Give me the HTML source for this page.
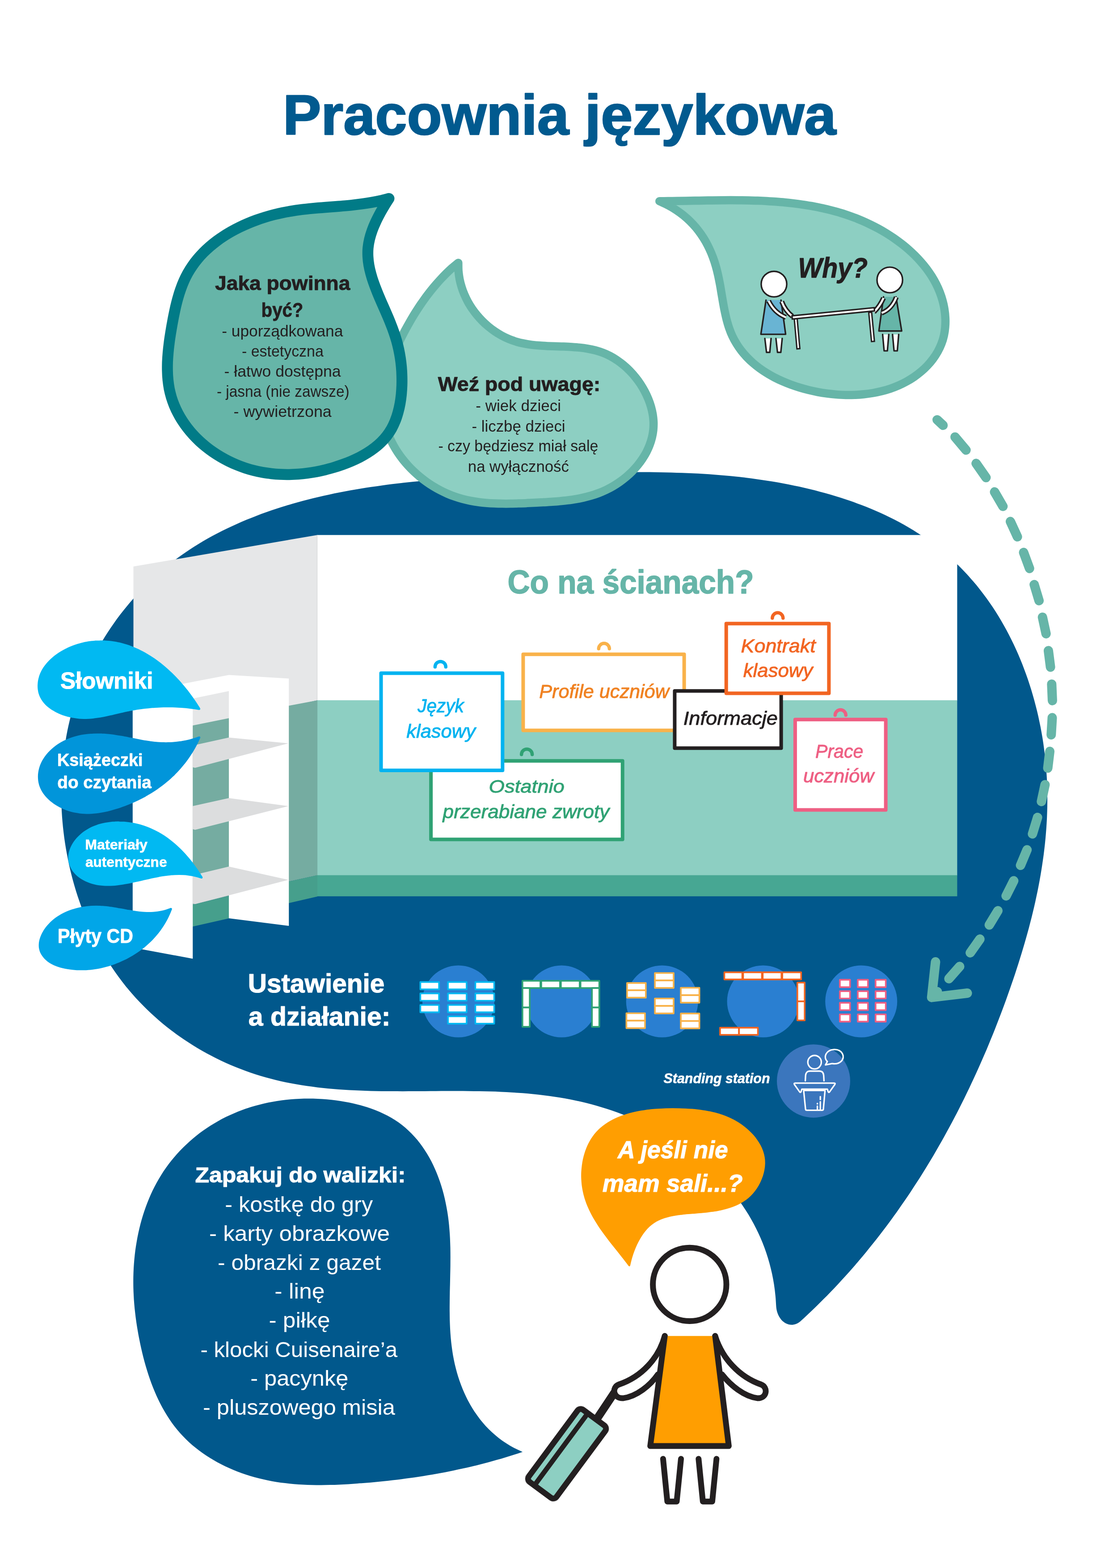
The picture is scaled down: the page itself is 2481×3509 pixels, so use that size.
<!DOCTYPE html>
<html lang="pl">
<head>
<meta charset="utf-8">
<title>Pracownia językowa</title>
<style>
html,body{margin:0;padding:0;background:#fff;}
body{width:2481px;height:3509px;overflow:hidden;}
svg{display:block;}
text{font-family:"Liberation Sans",sans-serif;}
.tb{font-weight:bold;}
.ti{font-style:italic;}
.tbi{font-weight:bold;font-style:italic;}
</style>
</head>
<body>
<svg width="2481" height="3509" viewBox="0 0 2481 3509">
<g opacity="0.999">
<text class="tb" transform="translate(633 300.6) scale(1.0132 1)" font-size="126.3" fill="#005a8f" stroke="#005a8f" stroke-width="2.7" stroke-linejoin="round">Pracownia językowa</text>
<path d="M1736.5,2925C1735.9,2916.5 1735.6,2907.9 1734.7,2899.5C1733.9,2891.1 1732.9,2882.8 1731.6,2874.6C1730.3,2866.4 1728.8,2858.3 1727.1,2850.3C1725.4,2842.3 1723.4,2834.4 1721.3,2826.7C1719.1,2818.9 1716.8,2811.2 1714.2,2803.6C1711.7,2796.1 1708.9,2788.6 1706,2781.3C1703,2773.9 1699.9,2766.7 1696.5,2759.6C1693.2,2752.4 1689.7,2745.4 1686,2738.5C1682.3,2731.6 1678.4,2724.8 1674.4,2718.1C1670.3,2711.4 1666.1,2704.8 1661.7,2698.4C1657.4,2691.9 1652.8,2685.6 1648.1,2679.3C1643.4,2673.1 1638.6,2667 1633.6,2661C1628.6,2655 1623.4,2649.1 1618.1,2643.4C1612.8,2637.6 1607.4,2631.9 1601.8,2626.4C1596.3,2620.9 1590.6,2615.5 1584.8,2610.2C1578.9,2604.9 1573,2599.8 1566.9,2594.7C1560.9,2589.7 1554.7,2584.8 1548.4,2580C1542.1,2575.2 1535.7,2570.5 1529.2,2565.9C1522.7,2561.4 1516.1,2557 1509.4,2552.7C1502.7,2548.4 1495.9,2544.2 1489.1,2540.2C1482.2,2536.1 1475.2,2532.2 1468.2,2528.4C1461.2,2524.6 1454,2521 1446.8,2517.4C1439.7,2513.9 1432.4,2510.5 1425.1,2507.2C1417.7,2504 1410.4,2500.8 1402.9,2497.8C1395.5,2494.8 1388,2492 1380.4,2489.2C1372.9,2486.5 1365.3,2483.9 1357.6,2481.4C1350,2479 1342.3,2476.6 1334.6,2474.4C1326.9,2472.3 1319.2,2470.2 1311.4,2468.3C1303.6,2466.4 1295.8,2464.6 1288,2462.9C1280.2,2461.3 1272.4,2459.7 1264.5,2458.3C1256.6,2456.9 1248.7,2455.6 1240.8,2454.4C1232.9,2453.2 1225,2452.1 1217,2451.2C1209.1,2450.2 1201.1,2449.3 1193.1,2448.5C1185.2,2447.7 1177.2,2447 1169.1,2446.3C1161.1,2445.7 1153.1,2445.2 1145,2444.7C1137,2444.2 1128.9,2443.8 1120.9,2443.4C1112.8,2443.1 1104.7,2442.8 1096.6,2442.6C1088.6,2442.3 1080.5,2442.2 1072.4,2442C1064.3,2441.9 1056.1,2441.8 1048,2441.7C1039.9,2441.6 1031.8,2441.6 1023.7,2441.6C1015.6,2441.6 1007.4,2441.6 999.3,2441.6C991.2,2441.7 983.1,2441.7 974.9,2441.8C966.8,2441.8 958.7,2441.9 950.6,2441.9C942.5,2442 934.3,2442.1 926.2,2442.1C918.1,2442.1 910,2442.2 901.9,2442.2C893.8,2442.2 885.7,2442.2 877.7,2442.1C869.6,2442.1 861.5,2442 853.4,2441.9C845.4,2441.7 837.3,2441.6 829.3,2441.4C821.3,2441.2 813.3,2440.9 805.2,2440.6C797.2,2440.3 789.2,2439.9 781.3,2439.5C773.3,2439 765.3,2438.5 757.4,2437.9C749.5,2437.3 741.6,2436.7 733.7,2435.9C725.8,2435.2 717.9,2434.3 710.1,2433.4C702.2,2432.4 694.4,2431.4 686.6,2430.3C678.8,2429.1 671,2427.9 663.3,2426.6C655.5,2425.2 647.8,2423.7 640.1,2422.2C632.4,2420.6 624.7,2418.8 617.1,2417C609.5,2415.2 601.9,2413.2 594.3,2411.1C586.8,2408.9 579.2,2406.7 571.7,2404.3C564.2,2401.9 556.8,2399.3 549.4,2396.6C542,2393.9 534.6,2391.1 527.3,2388.1C520,2385.1 512.7,2382 505.5,2378.7C498.3,2375.5 491.1,2372.1 484,2368.5C476.9,2365 469.9,2361.3 462.9,2357.5C456,2353.7 449.1,2349.8 442.2,2345.7C435.4,2341.7 428.7,2337.5 422,2333.1C415.3,2328.8 408.7,2324.4 402.2,2319.8C395.8,2315.2 389.3,2310.5 383,2305.7C376.7,2300.9 370.5,2295.9 364.3,2290.9C358.2,2285.8 352.2,2280.6 346.3,2275.3C340.3,2270 334.5,2264.6 328.8,2259C323.1,2253.5 317.5,2247.8 312,2242.1C306.6,2236.3 301.2,2230.4 296,2224.4C290.7,2218.5 285.6,2212.4 280.6,2206.2C275.6,2199.9 270.8,2193.6 266.1,2187.2C261.3,2180.8 256.7,2174.3 252.3,2167.7C247.8,2161 243.5,2154.3 239.3,2147.5C235.1,2140.7 231,2133.9 227,2126.9C223.1,2119.9 219.3,2112.9 215.6,2105.7C211.9,2098.6 208.4,2091.4 204.9,2084.1C201.5,2076.9 198.2,2069.5 195,2062.1C191.9,2054.7 188.8,2047.2 185.9,2039.7C183,2032.2 180.2,2024.6 177.6,2016.9C174.9,2009.3 172.4,2001.6 170,1993.9C167.6,1986.1 165.4,1978.4 163.2,1970.5C161.1,1962.7 159.1,1954.9 157.2,1947C155.3,1939.1 153.6,1931.2 152,1923.2C150.4,1915.3 148.9,1907.3 147.5,1899.3C146.2,1891.3 144.9,1883.3 143.8,1875.3C142.7,1867.2 141.8,1859.2 140.9,1851.1C140.1,1843.1 139.4,1835 138.8,1827C138.2,1818.9 137.8,1810.8 137.5,1802.8C137.2,1794.7 137,1786.6 137,1778.6C136.9,1770.5 137,1762.5 137.2,1754.4C137.5,1746.4 137.8,1738.4 138.3,1730.3C138.8,1722.3 139.4,1714.3 140.2,1706.3C141,1698.4 141.9,1690.4 142.9,1682.4C144,1674.5 145.1,1666.6 146.5,1658.7C147.8,1650.8 149.2,1643 150.8,1635.1C152.4,1627.3 154.2,1619.5 156,1611.8C157.9,1604 160,1596.3 162.1,1588.6C164.3,1581 166.6,1573.3 169,1565.8C171.5,1558.2 174.1,1550.7 176.8,1543.2C179.6,1535.7 182.5,1528.3 185.5,1520.9C188.5,1513.5 191.7,1506.2 195,1499C198.3,1491.7 201.7,1484.5 205.3,1477.4C208.8,1470.3 212.5,1463.2 216.4,1456.2C220.2,1449.3 224.2,1442.3 228.3,1435.5C232.3,1428.7 236.6,1421.9 240.9,1415.2C245.2,1408.5 249.7,1401.9 254.3,1395.4C258.9,1388.9 263.6,1382.5 268.4,1376.1C273.2,1369.8 278.1,1363.5 283.2,1357.4C288.2,1351.2 293.4,1345.2 298.7,1339.2C303.9,1333.2 309.3,1327.4 314.8,1321.6C320.3,1315.8 325.9,1310.2 331.6,1304.6C337.2,1299.1 343,1293.6 348.9,1288.3C354.8,1283 360.8,1277.7 366.9,1272.6C373,1267.5 379.2,1262.5 385.4,1257.7C391.7,1252.8 398.1,1248.1 404.5,1243.5C411,1238.9 417.5,1234.4 424.2,1230C430.8,1225.6 437.5,1221.4 444.3,1217.2C451.1,1213.1 457.9,1209.1 464.9,1205.1C471.8,1201.2 478.8,1197.4 485.9,1193.7C492.9,1190 500.1,1186.5 507.3,1183C514.4,1179.5 521.7,1176.1 529,1172.9C536.3,1169.6 543.7,1166.4 551.1,1163.3C558.5,1160.3 566,1157.3 573.5,1154.4C581,1151.6 588.6,1148.8 596.2,1146.1C603.7,1143.4 611.4,1140.8 619,1138.3C626.7,1135.8 634.4,1133.4 642.1,1131C649.9,1128.7 657.6,1126.5 665.4,1124.3C673.2,1122.1 681,1120.1 688.8,1118C696.6,1116 704.5,1114.1 712.3,1112.3C720.1,1110.4 728,1108.6 735.9,1106.9C743.7,1105.2 751.6,1103.6 759.5,1102.1C767.4,1100.5 775.2,1099 783.1,1097.6C791,1096.1 798.9,1094.8 806.7,1093.5C814.6,1092.2 822.5,1090.9 830.4,1089.8C838.2,1088.6 846.1,1087.5 854,1086.4C861.9,1085.3 869.8,1084.3 877.6,1083.3C885.5,1082.4 893.4,1081.5 901.3,1080.6C909.2,1079.7 917.1,1078.9 925,1078.1C932.9,1077.3 940.7,1076.6 948.6,1075.9C956.5,1075.2 964.4,1074.5 972.4,1073.9C980.3,1073.3 988.2,1072.7 996.1,1072.1C1004,1071.6 1011.9,1071 1019.8,1070.5C1027.8,1070 1035.7,1069.6 1043.6,1069.1C1051.6,1068.7 1059.5,1068.3 1067.5,1067.8C1075.4,1067.4 1083.4,1067.1 1091.3,1066.7C1099.3,1066.3 1107.2,1066 1115.2,1065.6C1123.2,1065.3 1131.2,1065 1139.1,1064.6C1147.1,1064.3 1155.1,1064 1163.1,1063.7C1171.1,1063.4 1179.1,1063.1 1187.1,1062.8C1195.2,1062.5 1203.2,1062.2 1211.2,1061.9C1219.3,1061.6 1227.3,1061.3 1235.3,1061C1243.4,1060.7 1251.4,1060.4 1259.5,1060.1C1267.6,1059.9 1275.6,1059.6 1283.7,1059.3C1291.8,1059.1 1299.9,1058.8 1307.9,1058.6C1316,1058.3 1324.1,1058.1 1332.2,1057.9C1340.3,1057.7 1348.4,1057.5 1356.4,1057.4C1364.5,1057.2 1372.6,1057 1380.7,1056.9C1388.8,1056.8 1396.9,1056.7 1405,1056.6C1413.1,1056.6 1421.2,1056.5 1429.2,1056.5C1437.3,1056.5 1445.4,1056.6 1453.5,1056.6C1461.6,1056.7 1469.7,1056.8 1477.7,1056.9C1485.8,1057.1 1493.9,1057.2 1501.9,1057.4C1510,1057.7 1518.1,1057.9 1526.1,1058.2C1534.2,1058.5 1542.2,1058.9 1550.3,1059.3C1558.3,1059.7 1566.3,1060.1 1574.3,1060.6C1582.4,1061.1 1590.4,1061.6 1598.4,1062.2C1606.4,1062.9 1614.4,1063.5 1622.4,1064.2C1630.4,1064.9 1638.3,1065.7 1646.3,1066.6C1654.3,1067.4 1662.2,1068.3 1670.1,1069.3C1678.1,1070.2 1686,1071.3 1693.9,1072.4C1701.8,1073.5 1709.7,1074.6 1717.6,1075.9C1725.5,1077.1 1733.3,1078.4 1741.2,1079.8C1749,1081.2 1756.9,1082.7 1764.7,1084.2C1772.5,1085.8 1780.3,1087.4 1788.1,1089.1C1795.9,1090.8 1803.6,1092.6 1811.4,1094.5C1819.1,1096.3 1826.8,1098.3 1834.5,1100.4C1842.2,1102.4 1849.9,1104.5 1857.6,1106.8C1865.2,1109 1872.9,1111.3 1880.5,1113.8C1888.1,1116.2 1895.6,1118.7 1903.2,1121.3C1910.7,1124 1918.2,1126.7 1925.6,1129.5C1933.1,1132.3 1940.5,1135.3 1947.8,1138.3C1955.2,1141.4 1962.5,1144.5 1969.7,1147.8C1977,1151.1 1984.1,1154.5 1991.2,1158C1998.3,1161.5 2005.4,1165.1 2012.3,1168.8C2019.3,1172.6 2026.2,1176.5 2033,1180.5C2039.8,1184.5 2046.5,1188.6 2053.2,1192.9C2059.8,1197.1 2066.3,1201.5 2072.8,1206C2079.2,1210.6 2085.6,1215.2 2091.8,1220C2098.1,1224.8 2104.2,1229.8 2110.3,1234.8C2116.3,1239.9 2122.3,1245 2128.1,1250.3C2133.9,1255.6 2139.6,1261.1 2145.3,1266.6C2150.9,1272.1 2156.4,1277.8 2161.7,1283.6C2167.1,1289.4 2172.4,1295.3 2177.5,1301.3C2182.7,1307.3 2187.7,1313.4 2192.6,1319.7C2197.5,1325.9 2202.3,1332.2 2207,1338.7C2211.6,1345.1 2216.1,1351.7 2220.6,1358.3C2225,1364.9 2229.3,1371.7 2233.5,1378.5C2237.6,1385.3 2241.7,1392.2 2245.6,1399.2C2249.6,1406.2 2253.4,1413.2 2257.1,1420.4C2260.8,1427.5 2264.3,1434.8 2267.8,1442C2271.2,1449.3 2274.6,1456.7 2277.8,1464.1C2281,1471.5 2284.1,1479 2287.1,1486.5C2290,1494.1 2292.9,1501.7 2295.6,1509.3C2298.4,1516.9 2301,1524.6 2303.5,1532.4C2306,1540.1 2308.4,1547.9 2310.6,1555.7C2312.9,1563.5 2315,1571.3 2317,1579.2C2319.1,1587.1 2321,1595 2322.8,1602.9C2324.5,1610.9 2326.2,1618.8 2327.8,1626.8C2329.3,1634.7 2330.7,1642.7 2332.1,1650.7C2333.4,1658.7 2334.6,1666.7 2335.6,1674.8C2336.7,1682.8 2337.7,1690.8 2338.5,1698.8C2339.4,1706.8 2340.1,1714.8 2340.7,1722.8C2341.3,1730.8 2341.8,1738.8 2342.2,1746.8C2342.6,1754.8 2342.8,1762.8 2343,1770.7C2343.1,1778.7 2343.2,1786.6 2343.1,1794.6C2343.1,1802.5 2342.9,1810.5 2342.6,1818.4C2342.4,1826.3 2342,1834.2 2341.5,1842.2C2341.1,1850.1 2340.5,1858 2339.8,1865.9C2339.2,1873.7 2338.4,1881.6 2337.6,1889.5C2336.7,1897.4 2335.8,1905.2 2334.8,1913.1C2333.7,1920.9 2332.6,1928.8 2331.4,1936.6C2330.2,1944.4 2329,1952.3 2327.6,1960.1C2326.3,1967.9 2324.8,1975.7 2323.3,1983.5C2321.8,1991.3 2320.2,1999 2318.5,2006.8C2316.9,2014.6 2315.2,2022.3 2313.4,2030.1C2311.6,2037.8 2309.7,2045.6 2307.8,2053.3C2305.8,2061 2303.8,2068.8 2301.8,2076.5C2299.7,2084.2 2297.6,2091.9 2295.4,2099.6C2293.3,2107.2 2291,2114.9 2288.7,2122.6C2286.5,2130.2 2284.1,2137.9 2281.7,2145.5C2279.4,2153.2 2276.9,2160.8 2274.4,2168.4C2272,2176 2269.4,2183.7 2266.9,2191.3C2264.3,2198.9 2261.7,2206.4 2259,2214C2256.4,2221.6 2253.7,2229.1 2251,2236.7C2248.3,2244.2 2245.5,2251.8 2242.7,2259.3C2239.9,2266.8 2237,2274.3 2234.1,2281.8C2231.2,2289.3 2228.3,2296.8 2225.4,2304.3C2222.4,2311.7 2219.4,2319.2 2216.3,2326.6C2213.3,2334.1 2210.2,2341.5 2207.1,2348.9C2203.9,2356.3 2200.7,2363.7 2197.5,2371C2194.3,2378.4 2191.1,2385.7 2187.8,2393C2184.5,2400.4 2181.1,2407.7 2177.7,2415C2174.4,2422.2 2170.9,2429.5 2167.5,2436.8C2164,2444 2160.5,2451.2 2157,2458.4C2153.4,2465.6 2149.8,2472.8 2146.2,2479.9C2142.6,2487.1 2138.9,2494.2 2135.2,2501.3C2131.4,2508.4 2127.7,2515.5 2123.9,2522.6C2120.1,2529.6 2116.2,2536.7 2112.3,2543.7C2108.4,2550.7 2104.5,2557.7 2100.5,2564.6C2096.5,2571.6 2092.5,2578.5 2088.5,2585.4C2084.4,2592.3 2080.3,2599.1 2076.1,2606C2072,2612.8 2067.8,2619.6 2063.5,2626.4C2059.3,2633.2 2055,2639.9 2050.7,2646.6C2046.3,2653.4 2042,2660 2037.6,2666.7C2033.1,2673.4 2028.7,2680 2024.2,2686.6C2019.6,2693.2 2015.1,2699.7 2010.5,2706.2C2005.9,2712.8 2001.3,2719.2 1996.6,2725.7C1991.9,2732.1 1987.1,2738.6 1982.4,2744.9C1977.6,2751.3 1972.7,2757.7 1967.9,2764C1963,2770.3 1958.1,2776.6 1953.1,2782.8C1948.1,2789 1943.1,2795.2 1938.1,2801.4C1933,2807.5 1927.9,2813.7 1922.8,2819.7C1917.6,2825.8 1912.4,2831.9 1907.2,2837.9C1901.9,2843.9 1896.6,2849.8 1891.3,2855.7C1885.9,2861.6 1880.6,2867.5 1875.1,2873.4C1869.7,2879.2 1864.2,2885 1858.7,2890.7C1853.1,2896.5 1847.6,2902.2 1841.9,2907.8C1836.3,2913.5 1830.6,2919.1 1824.9,2924.7C1819.2,2930.2 1813.4,2935.7 1807.6,2941.2C1801.8,2946.7 1795.9,2952.1 1790,2957.5C1767,2976 1739.5,2957 1736.5,2925Z" fill="#00588c"/>
<rect x="709.6" y="1197.3" width="1431.8" height="370.5" fill="#fff"/><rect x="709.6" y="1567.2" width="1431.8" height="392" fill="#8dcfc2"/><rect x="709.6" y="1958.6" width="1431.8" height="47.2" fill="#47a793"/><path d="M298.5,1267.8L710.1,1197.3L710.1,1567.2L298.5,1660Z" fill="#e6e7e8"/><path d="M645.2,1579.4L710.1,1567.2L710.1,1958.8L645.2,1973Z" fill="#75aca1"/><path d="M645.2,1972.9L710.1,1958.5L710.1,2006.2L645.2,2021.3Z" fill="#469f8c"/><path d="M430.2,1623.7L513,1606.9L513,2005.1L430.2,2025Z" fill="#75aca1"/><path d="M430.2,2025L513,2005.1L513,2055L430.2,2073.8Z" fill="#469f8c"/><path d="M709.6,1197.4V1567" stroke="#d3d5d6" stroke-width="1" fill="none"/>
<path d="M296.8,1552L431.2,1525.9L512,1510.4L646.2,1518.4L646.2,2072.1L512,2055L512,1546.5L431.2,1563.2L431.2,2145.5L296.8,2120.5Z" fill="#fff"/><path d="M430.7,1668.5L512,1650.4L645.2,1663.4L436.6,1718.3L430.7,1717Z" fill="#dcddde"/><path d="M430.7,1803.9L512,1785.9L645.2,1803.9L436.6,1856.9L430.7,1855.6Z" fill="#dcddde"/><path d="M430.7,1958.9L512,1939.2L645.2,1969.1L436.6,2023.3L430.7,2022Z" fill="#dcddde"/>
<path d="M1339.3,1451.8A12,12 0 0 1 1363.3,1451.8" fill="none" stroke="#f9b24a" stroke-width="7.5" stroke-linecap="round"/><rect x="1170.4" y="1464.3" width="360.2" height="170.1" fill="#fff" stroke="#f9b24a" stroke-width="8" stroke-linejoin="round"/><text class="ti" transform="translate(1206.3 1561.6) scale(1.0386 1)" font-size="41.6" fill="#f08222" stroke="#f08222" stroke-width="0.9" stroke-linejoin="round">Profile uczniów</text><path d="M1166.6,1688.4A12,12 0 0 1 1190.6,1688.4" fill="none" stroke="#30a274" stroke-width="7.5" stroke-linecap="round"/><rect x="964.1" y="1702.7" width="428.6" height="175.7" fill="#fff" stroke="#30a274" stroke-width="8" stroke-linejoin="round"/><text class="ti" transform="translate(1093.6 1774.1) scale(1.0931 1)" font-size="41.6" fill="#30a274" stroke="#30a274" stroke-width="0.9" stroke-linejoin="round">Ostatnio</text><text class="ti" transform="translate(990.6 1830.7) scale(1.0611 1)" font-size="41.6" fill="#30a274" stroke="#30a274" stroke-width="0.9" stroke-linejoin="round">przerabiane zwroty</text><path d="M973.3,1492.4A12,12 0 0 1 997.3,1492.4" fill="none" stroke="#00b3f0" stroke-width="7.5" stroke-linecap="round"/><rect x="852.5" y="1506.4" width="271.8" height="217.5" fill="#fff" stroke="#00b3f0" stroke-width="8" stroke-linejoin="round"/><text class="ti" transform="translate(934.2 1594.1) scale(0.9749 1)" font-size="41.6" fill="#00b3f0" stroke="#00b3f0" stroke-width="0.9" stroke-linejoin="round">Język</text><text class="ti" transform="translate(909.3 1651.4) scale(1.0449 1)" font-size="41.6" fill="#00b3f0" stroke="#00b3f0" stroke-width="0.9" stroke-linejoin="round">klasowy</text><rect x="1509.4" y="1546.2" width="238.2" height="128.1" fill="#fff" stroke="#231f20" stroke-width="8" stroke-linejoin="round"/><text class="ti" transform="translate(1528.7 1621.7) scale(1.0886 1)" font-size="41.6" fill="#231f20" stroke="#231f20" stroke-width="0.9" stroke-linejoin="round">Informacje</text><path d="M1727.8,1383.3A12,12 0 0 1 1751.8,1383.3" fill="none" stroke="#f26522" stroke-width="7.5" stroke-linecap="round"/><rect x="1624.7" y="1395.4" width="229.7" height="156.1" fill="#fff" stroke="#f26522" stroke-width="8" stroke-linejoin="round"/><text class="ti" transform="translate(1657.5 1459.8) scale(1.0794 1)" font-size="41.6" fill="#f26522" stroke="#f26522" stroke-width="0.9" stroke-linejoin="round">Kontrakt</text><text class="ti" transform="translate(1662.7 1514.5) scale(1.0523 1)" font-size="41.6" fill="#f26522" stroke="#f26522" stroke-width="0.9" stroke-linejoin="round">klasowy</text><path d="M1868.3,1600.6A12,12 0 0 1 1892.3,1600.6" fill="none" stroke="#ee5f83" stroke-width="7.5" stroke-linecap="round"/><rect x="1778.9" y="1610.2" width="202.7" height="202.3" fill="#fff" stroke="#ee5f83" stroke-width="8" stroke-linejoin="round"/><text class="ti" transform="translate(1824 1695.7) scale(0.9875 1)" font-size="41.6" fill="#ee5f83" stroke="#ee5f83" stroke-width="0.9" stroke-linejoin="round">Prace</text><text class="ti" transform="translate(1796.9 1751.1) scale(1.0524 1)" font-size="41.6" fill="#ee5f83" stroke="#ee5f83" stroke-width="0.9" stroke-linejoin="round">uczniów</text><text class="tb" transform="translate(1135.5 1327.8) scale(0.9360 1)" font-size="74.1" fill="#66b5a8" stroke="#66b5a8" stroke-width="1.6" stroke-linejoin="round">Co na ścianach?</text>
<path d="M445.6,1586.3C443.9,1583.6 442.2,1580.8 440.4,1578C438.6,1575.3 436.8,1572.5 435,1569.8C433.1,1567 431.2,1564.3 429.3,1561.6C427.3,1558.8 425.3,1556.1 423.3,1553.4C421.3,1550.8 419.3,1548.1 417.2,1545.4C415.1,1542.8 413,1540.1 410.8,1537.5C408.6,1534.9 406.4,1532.3 404.2,1529.8C401.9,1527.2 399.7,1524.7 397.4,1522.2C395,1519.7 392.7,1517.2 390.3,1514.8C387.9,1512.4 385.5,1510 383.1,1507.6C380.6,1505.3 378.2,1502.9 375.6,1500.7C373.1,1498.4 370.6,1496.1 368,1493.9C365.4,1491.7 362.8,1489.6 360.2,1487.5C357.5,1485.4 354.9,1483.3 352.2,1481.3C349.5,1479.3 346.7,1477.3 344,1475.4C341.2,1473.5 338.4,1471.7 335.6,1469.9C332.8,1468.1 329.9,1466.3 327,1464.6C324.2,1463 321.3,1461.4 318.3,1459.8C315.4,1458.3 312.5,1456.8 309.5,1455.3C306.5,1453.9 303.5,1452.6 300.4,1451.3C297.4,1450 294.4,1448.8 291.3,1447.6C288.2,1446.5 285.1,1445.4 282,1444.5C278.8,1443.5 275.7,1442.6 272.5,1441.7C269.3,1440.9 266.1,1440.1 262.9,1439.5C259.7,1438.8 256.4,1438.2 253.2,1437.7C249.9,1437.2 246.6,1436.8 243.3,1436.5C240,1436.2 236.7,1436 233.4,1435.8C230,1435.7 226.7,1435.6 223.3,1435.7C220,1435.7 216.6,1435.9 213.2,1436.1C209.9,1436.4 206.5,1436.7 203.1,1437.1C199.8,1437.6 196.4,1438.1 193,1438.7C189.7,1439.3 186.4,1440.1 183.1,1440.9C179.7,1441.7 176.4,1442.6 173.2,1443.7C169.9,1444.7 166.6,1445.8 163.4,1447C160.2,1448.3 157,1449.6 153.9,1451C150.8,1452.5 147.6,1454 144.6,1455.6C141.5,1457.3 138.5,1459 135.5,1460.9C132.6,1462.7 129.7,1464.7 126.8,1466.8C124,1468.8 121.2,1471 118.6,1473.3C116,1475.5 113.4,1477.9 111,1480.4C108.6,1482.8 106.3,1485.4 104.2,1488C102,1490.6 100.1,1493.4 98.3,1496.2C96.5,1499 94.9,1501.9 93.5,1504.9C92,1507.9 90.8,1511 89.8,1514.1C88.9,1517.2 88.1,1520.4 87.5,1523.6C87,1526.8 86.7,1530 86.6,1533.1C86.5,1536.3 86.6,1539.5 87,1542.5C87.4,1545.6 88,1548.7 88.8,1551.6C89.7,1554.5 90.8,1557.3 92.2,1560C93.5,1562.7 95.1,1565.3 96.9,1567.8C98.7,1570.3 100.7,1572.7 102.9,1574.9C105.1,1577.2 107.5,1579.3 110,1581.3C112.6,1583.3 115.3,1585.3 118.1,1587C120.9,1588.8 123.9,1590.5 126.9,1592C130,1593.6 133.1,1595 136.4,1596.3C139.6,1597.6 142.9,1598.8 146.3,1599.8C149.7,1600.9 153.1,1601.8 156.6,1602.6C160,1603.4 163.5,1604.1 167,1604.6C170.4,1605.2 173.9,1605.6 177.4,1605.9C180.8,1606.2 184.3,1606.3 187.7,1606.4C191.1,1606.4 194.5,1606.3 197.9,1606.2C201.2,1606 204.6,1605.7 207.9,1605.4C211.3,1605.1 214.6,1604.6 217.9,1604.1C221.2,1603.6 224.5,1603.1 227.8,1602.5C231.1,1601.9 234.4,1601.2 237.7,1600.5C241,1599.8 244.2,1599.1 247.5,1598.3C250.8,1597.6 254,1596.8 257.3,1596.1C260.5,1595.3 263.8,1594.5 267,1593.8C270.3,1593 273.6,1592.2 276.8,1591.5C280.1,1590.8 283.4,1590.1 286.6,1589.5C289.9,1588.8 293.2,1588.2 296.5,1587.6C299.8,1587 303,1586.5 306.3,1585.9C309.6,1585.4 312.9,1584.9 316.2,1584.5C319.5,1584.1 322.8,1583.6 326.1,1583.3C329.4,1582.9 332.7,1582.5 336,1582.2C339.3,1581.9 342.6,1581.7 346,1581.4C349.3,1581.2 352.6,1581 355.9,1580.9C359.2,1580.7 362.5,1580.6 365.9,1580.5C369.2,1580.4 372.5,1580.4 375.8,1580.4C379.1,1580.4 382.5,1580.4 385.8,1580.5C389.1,1580.6 392.4,1580.7 395.8,1580.9C399.1,1581 402.4,1581.2 405.7,1581.4C409.1,1581.7 412.4,1582 415.7,1582.3C419,1582.6 422.4,1583 425.7,1583.4C429,1583.8 432.3,1584.2 435.7,1584.7C439,1585.2 442.3,1585.8 445.6,1586.3Z" fill="#00b9f2" stroke="#00b9f2" stroke-width="5" stroke-linejoin="round"/><text class="tb" transform="translate(134.9 1541) scale(0.9938 1)" font-size="51.5" fill="#fff" stroke="#fff" stroke-width="1.1" stroke-linejoin="round">Słowniki</text><path d="M445.6,1650.5C442.3,1651.7 439,1652.9 435.7,1653.9C432.4,1655 429.1,1655.9 425.8,1656.8C422.5,1657.7 419.2,1658.4 415.9,1659.1C412.6,1659.8 409.3,1660.4 405.9,1661C402.6,1661.5 399.3,1661.9 396,1662.3C392.7,1662.7 389.4,1663 386,1663.2C382.7,1663.4 379.4,1663.5 376.1,1663.6C372.8,1663.7 369.5,1663.7 366.2,1663.6C362.9,1663.6 359.6,1663.4 356.3,1663.2C353,1663 349.8,1662.7 346.5,1662.4C343.2,1662.1 339.9,1661.7 336.7,1661.3C333.4,1660.8 330.2,1660.3 326.9,1659.8C323.7,1659.3 320.4,1658.7 317.2,1658.1C313.9,1657.5 310.7,1656.9 307.5,1656.3C304.2,1655.6 301,1655 297.7,1654.3C294.5,1653.7 291.2,1653 287.9,1652.4C284.7,1651.7 281.4,1651.1 278.1,1650.5C274.8,1649.8 271.5,1649.2 268.2,1648.7C264.9,1648.1 261.6,1647.6 258.3,1647.1C255,1646.6 251.6,1646.1 248.2,1645.7C244.9,1645.3 241.5,1645 238.1,1644.7C234.7,1644.4 231.3,1644.2 227.9,1644.1C224.4,1643.9 221,1643.9 217.5,1643.9C214.1,1643.9 210.7,1644 207.2,1644.2C203.8,1644.3 200.4,1644.6 197,1644.9C193.5,1645.3 190.1,1645.7 186.7,1646.3C183.4,1646.8 180,1647.5 176.7,1648.2C173.3,1649 170,1649.8 166.7,1650.8C163.5,1651.7 160.2,1652.8 157,1654C153.9,1655.2 150.7,1656.5 147.6,1658C144.5,1659.4 141.4,1661 138.5,1662.7C135.5,1664.4 132.5,1666.2 129.7,1668.1C126.8,1670.1 124,1672.2 121.3,1674.4C118.7,1676.6 116.1,1678.9 113.6,1681.3C111.2,1683.7 108.8,1686.2 106.6,1688.8C104.5,1691.4 102.4,1694.1 100.6,1696.9C98.7,1699.7 97,1702.5 95.5,1705.4C94,1708.4 92.7,1711.4 91.6,1714.4C90.5,1717.5 89.6,1720.6 88.9,1723.7C88.3,1726.8 87.8,1729.9 87.5,1733C87.3,1736.2 87.3,1739.3 87.5,1742.4C87.6,1745.5 88.1,1748.5 88.7,1751.5C89.3,1754.5 90.2,1757.5 91.3,1760.3C92.4,1763.2 93.8,1766 95.3,1768.7C96.8,1771.4 98.5,1774 100.4,1776.5C102.3,1779.1 104.4,1781.5 106.6,1783.8C108.9,1786.2 111.3,1788.4 113.8,1790.6C116.3,1792.7 119,1794.7 121.7,1796.7C124.5,1798.6 127.4,1800.4 130.4,1802.1C133.3,1803.8 136.4,1805.4 139.5,1806.8C142.6,1808.3 145.9,1809.6 149.1,1810.8C152.3,1812 155.6,1813.1 158.9,1814C162.2,1814.9 165.6,1815.7 168.9,1816.4C172.2,1817 175.6,1817.5 178.9,1817.9C182.3,1818.3 185.7,1818.6 189,1818.7C192.4,1818.9 195.8,1818.9 199.2,1818.9C202.5,1818.8 205.9,1818.6 209.3,1818.3C212.7,1818 216.1,1817.7 219.4,1817.2C222.8,1816.8 226.2,1816.2 229.5,1815.6C232.9,1814.9 236.2,1814.2 239.6,1813.5C242.9,1812.7 246.3,1811.8 249.6,1810.9C252.9,1810 256.2,1809.1 259.5,1808C262.7,1807 266,1806 269.2,1804.8C272.5,1803.7 275.7,1802.6 278.9,1801.4C282.1,1800.2 285.2,1799 288.4,1797.7C291.5,1796.4 294.7,1795.1 297.8,1793.7C300.8,1792.3 303.9,1790.9 307,1789.5C310,1788 313,1786.5 316,1785C319,1783.4 322,1781.8 324.9,1780.2C327.8,1778.6 330.7,1776.9 333.6,1775.2C336.4,1773.5 339.3,1771.7 342.1,1769.9C344.9,1768.1 347.6,1766.3 350.4,1764.4C353.1,1762.5 355.8,1760.6 358.5,1758.6C361.1,1756.6 363.8,1754.6 366.4,1752.5C369,1750.5 371.5,1748.4 374,1746.2C376.6,1744.1 379,1741.9 381.5,1739.7C383.9,1737.4 386.3,1735.2 388.7,1732.9C391,1730.5 393.3,1728.2 395.6,1725.8C397.9,1723.4 400.1,1720.9 402.3,1718.4C404.5,1715.9 406.6,1713.4 408.7,1710.8C410.8,1708.3 412.9,1705.7 414.9,1703C416.9,1700.3 418.9,1697.6 420.8,1694.9C422.7,1692.1 424.5,1689.4 426.3,1686.5C428.2,1683.7 429.9,1680.8 431.6,1677.9C433.3,1675 435,1672 436.6,1669C438.2,1666 439.8,1663 441.3,1659.9C442.8,1656.8 444.2,1653.6 445.6,1650.5Z" fill="#0095da" stroke="#0095da" stroke-width="5" stroke-linejoin="round"/><text class="tb" transform="translate(127.9 1714.4) scale(0.9571 1)" font-size="39.6" fill="#fff" stroke="#fff" stroke-width="0.8" stroke-linejoin="round">Książeczki</text><text class="tb" transform="translate(128.3 1763.6) scale(0.9756 1)" font-size="39.6" fill="#fff" stroke="#fff" stroke-width="0.8" stroke-linejoin="round">do czytania</text><path d="M450.8,1963.6C449,1960.8 447.2,1957.8 445.3,1955C443.5,1952.1 441.6,1949.3 439.7,1946.5C437.8,1943.7 435.8,1941 433.8,1938.2C431.8,1935.5 429.8,1932.8 427.7,1930.1C425.6,1927.5 423.5,1924.8 421.3,1922.2C419.2,1919.7 417,1917.1 414.8,1914.6C412.5,1912.1 410.3,1909.6 408,1907.2C405.7,1904.8 403.3,1902.4 400.9,1900.1C398.6,1897.8 396.1,1895.5 393.7,1893.3C391.2,1891.1 388.7,1888.9 386.2,1886.8C383.6,1884.7 381.1,1882.7 378.5,1880.7C375.8,1878.7 373.2,1876.8 370.5,1874.9C367.8,1873 365.1,1871.2 362.3,1869.5C359.5,1867.8 356.7,1866.1 353.9,1864.5C351,1862.9 348.1,1861.4 345.2,1859.9C342.3,1858.5 339.3,1857.1 336.3,1855.8C333.3,1854.5 330.2,1853.3 327.1,1852.1C324,1851 320.9,1849.9 317.7,1848.9C314.6,1847.9 311.4,1847 308.1,1846.2C304.9,1845.4 301.6,1844.7 298.2,1844C294.9,1843.4 291.5,1842.9 288.1,1842.4C284.7,1842 281.3,1841.6 277.8,1841.3C274.4,1841.1 270.9,1840.9 267.4,1840.9C263.9,1840.8 260.4,1840.9 256.9,1841.1C253.4,1841.2 250,1841.5 246.5,1841.9C243,1842.3 239.6,1842.8 236.2,1843.4C232.8,1844.1 229.4,1844.8 226,1845.7C222.7,1846.6 219.4,1847.6 216.2,1848.8C213,1849.9 209.8,1851.2 206.7,1852.6C203.6,1854 200.6,1855.6 197.6,1857.3C194.7,1859 191.8,1860.9 189,1862.8C186.3,1864.8 183.6,1867 181.1,1869.3C178.5,1871.6 176.1,1874 173.8,1876.5C171.6,1879 169.5,1881.6 167.5,1884.3C165.6,1887 163.9,1889.8 162.3,1892.7C160.8,1895.5 159.5,1898.4 158.4,1901.4C157.3,1904.3 156.5,1907.3 155.9,1910.3C155.3,1913.3 155,1916.3 155,1919.3C155,1922.3 155.3,1925.3 155.9,1928.2C156.5,1931.2 157.4,1934.1 158.5,1936.9C159.6,1939.7 161.1,1942.5 162.7,1945.1C164.3,1947.8 166.2,1950.3 168.3,1952.7C170.4,1955.1 172.7,1957.3 175.2,1959.4C177.7,1961.5 180.4,1963.4 183.3,1965.2C186.1,1966.9 189.1,1968.5 192.2,1970C195.3,1971.4 198.5,1972.7 201.7,1973.8C205,1975 208.4,1975.9 211.7,1976.7C215,1977.5 218.4,1978.2 221.8,1978.7C225.2,1979.2 228.6,1979.5 232,1979.7C235.5,1980 238.9,1980.1 242.3,1980C245.7,1980 249.2,1979.9 252.6,1979.7C256,1979.5 259.5,1979.1 262.9,1978.7C266.3,1978.4 269.8,1977.9 273.2,1977.3C276.6,1976.8 280,1976.2 283.4,1975.6C286.8,1975 290.2,1974.3 293.5,1973.6C296.9,1972.9 300.2,1972.2 303.5,1971.4C306.8,1970.7 310.2,1970 313.4,1969.2C316.7,1968.5 320,1967.7 323.3,1966.9C326.5,1966.2 329.8,1965.5 333,1964.7C336.3,1964 339.5,1963.3 342.8,1962.6C346,1961.9 349.2,1961.3 352.4,1960.7C355.7,1960 358.9,1959.4 362.1,1958.9C365.3,1958.4 368.5,1957.9 371.8,1957.5C375,1957 378.2,1956.7 381.4,1956.4C384.7,1956.1 387.9,1955.8 391.1,1955.7C394.4,1955.5 397.6,1955.5 400.9,1955.5C404.1,1955.5 407.4,1955.6 410.7,1955.8C413.9,1956 417.2,1956.3 420.5,1956.7C423.9,1957.1 427.2,1957.6 430.5,1958.3C433.9,1958.9 437.2,1959.7 440.6,1960.6C444,1961.5 447.4,1962.6 450.8,1963.6Z" fill="#00b9f2" stroke="#00b9f2" stroke-width="5" stroke-linejoin="round"/><text class="tb" transform="translate(190.2 1900.7) scale(1.0198 1)" font-size="31.6" fill="#fff" stroke="#fff" stroke-width="0.7" stroke-linejoin="round">Materiały</text><text class="tb" transform="translate(191 1940.3) scale(0.9994 1)" font-size="31.6" fill="#fff" stroke="#fff" stroke-width="0.7" stroke-linejoin="round">autentyczne</text><path d="M382.2,2034.3C378.9,2035.5 375.5,2036.8 372.2,2037.9C368.9,2038.9 365.5,2039.8 362.3,2040.5C359,2041.2 355.7,2041.8 352.4,2042.2C349.1,2042.7 345.9,2043 342.6,2043.2C339.4,2043.4 336.1,2043.5 332.9,2043.5C329.6,2043.5 326.4,2043.4 323.2,2043.2C319.9,2043 316.7,2042.7 313.5,2042.4C310.3,2042.1 307.1,2041.6 303.8,2041.2C300.6,2040.8 297.4,2040.3 294.2,2039.7C290.9,2039.2 287.7,2038.6 284.5,2038.1C281.2,2037.5 278,2036.9 274.8,2036.3C271.5,2035.7 268.3,2035.1 265,2034.6C261.7,2034 258.5,2033.4 255.2,2032.9C251.9,2032.4 248.6,2031.9 245.3,2031.5C242,2031 238.6,2030.6 235.3,2030.3C231.9,2030 228.6,2029.7 225.2,2029.6C221.8,2029.4 218.4,2029.3 215,2029.3C211.6,2029.3 208.2,2029.4 204.7,2029.6C201.3,2029.8 197.8,2030.1 194.4,2030.5C190.9,2030.9 187.5,2031.4 184,2032C180.6,2032.7 177.2,2033.4 173.8,2034.2C170.5,2035 167.1,2035.9 163.8,2037C160.5,2038 157.2,2039.2 154,2040.4C150.8,2041.7 147.7,2043.1 144.6,2044.6C141.5,2046.1 138.5,2047.7 135.5,2049.4C132.6,2051.1 129.7,2053 127,2054.9C124.2,2056.9 121.5,2059 119,2061.2C116.4,2063.4 113.9,2065.7 111.6,2068.2C109.2,2070.6 107,2073.2 104.9,2075.9C102.8,2078.6 100.9,2081.4 99.1,2084.2C97.4,2087 95.8,2090 94.5,2092.9C93.2,2095.8 92,2098.9 91.2,2101.8C90.3,2104.8 89.7,2107.8 89.4,2110.8C89.1,2113.8 89,2116.7 89.3,2119.6C89.6,2122.5 90.3,2125.3 91.2,2128.1C92.2,2130.8 93.5,2133.5 95.1,2136C96.7,2138.5 98.6,2141 100.7,2143.2C102.9,2145.5 105.3,2147.7 107.8,2149.7C110.4,2151.7 113.2,2153.5 116.1,2155.1C119,2156.8 122.1,2158.2 125.3,2159.5C128.5,2160.8 131.8,2161.9 135.2,2162.9C138.6,2163.9 142,2164.7 145.5,2165.4C149,2166.1 152.6,2166.7 156.1,2167.1C159.7,2167.6 163.2,2168 166.7,2168.2C170.2,2168.5 173.7,2168.7 177.2,2168.8C180.7,2168.9 184.1,2168.8 187.5,2168.8C190.9,2168.7 194.3,2168.5 197.7,2168.2C201,2168 204.4,2167.6 207.7,2167.2C211,2166.8 214.3,2166.3 217.6,2165.7C220.9,2165.1 224.1,2164.5 227.4,2163.7C230.6,2163 233.8,2162.2 237,2161.3C240.2,2160.5 243.4,2159.5 246.6,2158.5C249.7,2157.5 252.9,2156.4 256,2155.3C259.1,2154.1 262.2,2152.9 265.3,2151.7C268.4,2150.4 271.4,2149 274.4,2147.6C277.4,2146.2 280.4,2144.7 283.4,2143.2C286.3,2141.7 289.2,2140.1 292.1,2138.4C295,2136.7 297.9,2135 300.7,2133.2C303.5,2131.4 306.2,2129.6 308.9,2127.7C311.7,2125.8 314.3,2123.8 317,2121.8C319.6,2119.7 322.2,2117.6 324.7,2115.5C327.2,2113.3 329.7,2111.1 332.1,2108.9C334.6,2106.6 337,2104.3 339.3,2101.9C341.6,2099.5 343.8,2097.1 346,2094.6C348.2,2092.1 350.4,2089.5 352.5,2086.9C354.5,2084.3 356.5,2081.6 358.5,2078.9C360.4,2076.2 362.3,2073.4 364.1,2070.6C365.9,2067.8 367.7,2064.9 369.3,2062C371,2059.1 372.6,2056.1 374.1,2053.1C375.6,2050 377,2047 378.4,2043.8C379.7,2040.7 380.9,2037.5 382.2,2034.3Z" fill="#00a6e8" stroke="#00a6e8" stroke-width="5" stroke-linejoin="round"/><text class="tb" transform="translate(129 2109.9) scale(0.9439 1)" font-size="43.5" fill="#fff" stroke="#fff" stroke-width="0.9" stroke-linejoin="round">Płyty CD</text>
<circle cx="1025.4" cy="2241" r="80.5" fill="#2a7fd1"/><circle cx="1256.3" cy="2241" r="80.5" fill="#2a7fd1"/><circle cx="1481.2" cy="2241" r="80.5" fill="#2a7fd1"/><circle cx="1707.1" cy="2241" r="80.5" fill="#2a7fd1"/><circle cx="1926.7" cy="2241" r="80.5" fill="#2a7fd1"/><g fill="#fff" stroke="#00b9f2" stroke-width="3.7" stroke-linejoin="round"><rect x="940.4" y="2197.7" width="41.8" height="16.3"/><rect x="940.4" y="2223.2" width="41.8" height="16.3"/><rect x="940.4" y="2249" width="41.8" height="16.3"/><rect x="1002.1" y="2197.7" width="41.8" height="16.3"/><rect x="1002.1" y="2223.2" width="41.8" height="16.3"/><rect x="1002.1" y="2249" width="41.8" height="16.3"/><rect x="1002.1" y="2274.5" width="41.8" height="16.3"/><rect x="1063.4" y="2197.7" width="42.2" height="16.3"/><rect x="1063.4" y="2223.2" width="42.2" height="16.3"/><rect x="1063.4" y="2249" width="42.2" height="16.3"/><rect x="1063.4" y="2274.5" width="42.2" height="16.3"/></g><g fill="#fff" stroke="#30a274" stroke-width="3.7" stroke-linejoin="round"><rect x="1168.8" y="2194.8" width="40.2" height="16.3"/><rect x="1210.9" y="2194.8" width="42" height="16.3"/><rect x="1254.8" y="2194.8" width="42" height="16.3"/><rect x="1298.7" y="2194.8" width="42" height="16.3"/><rect x="1168.8" y="2211.2" width="16.3" height="43.5"/><rect x="1168.8" y="2254.7" width="16.3" height="43.1"/><rect x="1324.3" y="2211.2" width="16.4" height="43.5"/><rect x="1324.3" y="2254.7" width="16.4" height="43.1"/></g><g fill="#fff" stroke="#f9b24a" stroke-width="3.7" stroke-linejoin="round"><rect x="1402.9" y="2199.8" width="41.9" height="16.5"/><rect x="1402.9" y="2216.2" width="41.9" height="16.5"/><rect x="1465.1" y="2177.5" width="41.9" height="16.6"/><rect x="1465.1" y="2194.2" width="41.9" height="16.6"/><rect x="1523.1" y="2210.5" width="41.5" height="16.6"/><rect x="1523.1" y="2227.2" width="41.5" height="16.6"/><rect x="1465.1" y="2234.5" width="41.9" height="16.6"/><rect x="1465.1" y="2251.2" width="41.9" height="16.6"/><rect x="1401.4" y="2267.5" width="41.6" height="16.6"/><rect x="1401.4" y="2284.2" width="41.6" height="16.6"/><rect x="1523.1" y="2268.2" width="41.5" height="16.6"/><rect x="1523.1" y="2284.8" width="41.5" height="16.6"/></g><g fill="#fff" stroke="#f26522" stroke-width="3.7" stroke-linejoin="round"><rect x="1620.5" y="2175.8" width="40.1" height="16"/><rect x="1662.5" y="2175.8" width="42" height="16"/><rect x="1706.3" y="2175.8" width="42" height="16"/><rect x="1750.2" y="2175.8" width="42" height="16"/><rect x="1783.8" y="2198.8" width="16.4" height="42.1"/><rect x="1783.8" y="2241" width="16.4" height="42.5"/><rect x="1610.9" y="2299.8" width="42.3" height="16.1"/><rect x="1653.3" y="2299.8" width="42.3" height="16.1"/></g><g fill="#fff" stroke="#ee5f83" stroke-width="3.7" stroke-linejoin="round"><rect x="1878.9" y="2192.7" width="22.8" height="16.4"/><rect x="1878.9" y="2218.2" width="22.8" height="16.3"/><rect x="1878.9" y="2244.2" width="22.8" height="16.3"/><rect x="1878.9" y="2270" width="22.8" height="16.3"/><rect x="1919" y="2192.7" width="22.8" height="16.4"/><rect x="1919" y="2218.2" width="22.8" height="16.3"/><rect x="1919" y="2244.2" width="22.8" height="16.3"/><rect x="1919" y="2270" width="22.8" height="16.3"/><rect x="1958.8" y="2192.7" width="22.8" height="16.4"/><rect x="1958.8" y="2218.2" width="22.8" height="16.3"/><rect x="1958.8" y="2244.2" width="22.8" height="16.3"/><rect x="1958.8" y="2270" width="22.8" height="16.3"/></g><text class="tb" transform="translate(554.8 2220.6) scale(0.9845 1)" font-size="59.4" fill="#fff" stroke="#fff" stroke-width="1.2" stroke-linejoin="round">Ustawienie</text><text class="tb" transform="translate(555.8 2294.5) scale(0.9917 1)" font-size="59.4" fill="#fff" stroke="#fff" stroke-width="1.2" stroke-linejoin="round">a działanie:</text><circle cx="1820" cy="2419.2" r="82" fill="#3b76bd"/><text class="tbi" transform="translate(1484.6 2423.8) scale(0.9612 1)" font-size="31.6" fill="#fff" stroke="#fff" stroke-width="0.7" stroke-linejoin="round">Standing station</text><g fill="none" stroke="#fff" stroke-width="3.3" stroke-linecap="round" stroke-linejoin="round"><circle cx="1822.3" cy="2377.1" r="15.1"/><path d="M1801.6,2418.6L1802.2,2406.9C1802.6,2400.7 1806.3,2397 1811.8,2397L1833.1,2397C1838.9,2397 1842.2,2400.7 1842.7,2406.9L1843.4,2418.6"/><path d="M1778.9,2423.8L1866.4,2423.8Q1869.4,2423.8 1867.6,2427L1855.8,2443.6Q1853.8,2445.9 1852.8,2443.2L1850.9,2437.3L1793.9,2437.3L1792,2443.2Q1791,2445.9 1789,2443.6L1777.2,2427Q1775.5,2423.8 1778.9,2423.8Z"/><path d="M1797.9,2440.4L1845.7,2440.4L1842,2482Q1841.7,2484.6 1839.3,2484.6L1804.8,2484.6Q1802.3,2484.6 1802.1,2482Z"/><path d="M1828.6,2475.5L1828.6,2482.9"/><path d="M1828.6,2469.4L1828.6,2470.3"/><path d="M1835.2,2465.7L1835.2,2482.9"/><path d="M1835.2,2454.1L1835.2,2460.5"/><path d="M1850.9,2375.7C1840.8,2365.6 1848.2,2349.6 1866,2348.6C1883.9,2347.8 1892.5,2365.6 1881.4,2375.5C1875.9,2380.4 1867.9,2381.2 1861.5,2380.1L1846.7,2383.1Z"/></g>
<g fill="none" stroke="#66b5a8" stroke-width="21" stroke-linecap="round" stroke-linejoin="round"><path d="M2096.5,939.4L2109.8,951.8M2136.6,977.9L2161.2,1007.2M2183.7,1037.1L2205.9,1068.8M2225,1100.9L2243.8,1133.2M2260.4,1167.1L2276.1,1201.3M2290,1236.4L2303.2,1272.2M2313.7,1308.2L2324.5,1344.2M2332.2,1381.2L2340.2,1418.2M2345.4,1456.1L2350.1,1493M2352.8,1530.9L2354.4,1567.9M2354,1606.1L2351.7,1644.5M2348.5,1681.5L2344,1718.9M2337.9,1756L2329.8,1793.7M2321.1,1829.2L2309.8,1866.2M2297.6,1901.7L2283.1,1936.5M2267.9,1971L2250.8,2004.9M2232.4,2038.1L2213.1,2070M2192.2,2101.6L2170.6,2132.2M2147,2162.8L2122.8,2190.2"/><path d="M2092.9,2152.5L2084.2,2232.2L2164.1,2222.5"/><path d="M2097,2219.3L2090,2227"/></g>
<path d="M1025.3,588.2C1025.4,594.3 1025.2,600.5 1025.7,606.6C1026.2,612.7 1027.1,618.7 1028.2,624.6C1029.4,630.6 1030.9,636.4 1032.7,642.2C1034.4,648 1036.5,653.6 1038.9,659.2C1041.3,664.7 1043.9,670.2 1046.8,675.4C1049.7,680.7 1052.9,685.9 1056.3,690.9C1059.7,695.8 1063.3,700.7 1067.2,705.3C1071,709.9 1075.1,714.4 1079.3,718.6C1083.5,722.9 1088,726.9 1092.6,730.8C1097.2,734.6 1102,738.2 1106.9,741.5C1111.8,744.9 1116.9,748 1122.1,750.8C1127.3,753.7 1132.6,756.2 1138,758.5C1143.5,760.8 1149,762.8 1154.6,764.5C1160.2,766.2 1165.9,767.6 1171.7,768.7C1177.4,769.9 1183.3,770.8 1189.1,771.6C1195,772.3 1200.9,772.9 1206.9,773.3C1212.9,773.8 1218.9,774.1 1224.9,774.4C1230.9,774.6 1236.9,774.8 1243,775C1249,775.2 1255.1,775.3 1261.1,775.6C1267.1,775.8 1273.1,776 1279.1,776.4C1285.1,776.8 1291.1,777.2 1297,777.9C1302.9,778.5 1308.8,779.3 1314.6,780.3C1320.4,781.3 1326.2,782.5 1331.9,784C1337.6,785.6 1343.2,787.3 1348.7,789.4C1354.2,791.5 1359.6,793.9 1365,796.7C1370.3,799.5 1375.5,802.6 1380.5,806.1C1385.6,809.5 1390.5,813.3 1395.3,817.2C1400,821.2 1404.6,825.5 1409,830C1413.4,834.5 1417.6,839.2 1421.5,844.2C1425.5,849.1 1429.2,854.2 1432.7,859.4C1436.1,864.7 1439.4,870.1 1442.3,875.6C1445.2,881.1 1447.9,886.8 1450.2,892.5C1452.6,898.2 1454.6,904 1456.3,909.9C1457.9,915.7 1459.3,921.6 1460.3,927.4C1461.2,933.3 1461.9,939.2 1462.1,945C1462.3,950.9 1462,956.7 1461.5,962.4C1460.9,968.1 1459.8,973.8 1458.5,979.4C1457.1,985 1455.4,990.5 1453.3,995.9C1451.3,1001.3 1448.8,1006.6 1446.2,1011.8C1443.5,1017 1440.4,1022 1437.2,1026.9C1433.9,1031.9 1430.3,1036.7 1426.6,1041.3C1422.8,1045.9 1418.7,1050.4 1414.5,1054.7C1410.3,1058.9 1405.8,1063.1 1401.2,1067C1396.6,1070.9 1391.8,1074.6 1386.8,1078.1C1381.9,1081.6 1376.8,1084.9 1371.6,1088C1366.4,1091.1 1361,1093.9 1355.6,1096.5C1350.2,1099.1 1344.7,1101.4 1339.1,1103.5C1333.6,1105.6 1327.9,1107.5 1322.2,1109.2C1316.5,1110.8 1310.7,1112.3 1304.9,1113.6C1299.1,1114.9 1293.2,1116.1 1287.3,1117.1C1281.4,1118.1 1275.4,1118.9 1269.4,1119.7C1263.4,1120.4 1257.4,1121 1251.3,1121.6C1245.2,1122.1 1239.2,1122.6 1233.1,1123C1227,1123.4 1220.8,1123.8 1214.7,1124.1C1208.6,1124.4 1202.5,1124.7 1196.3,1125C1190.2,1125.3 1184.1,1125.6 1178,1125.9C1171.9,1126.2 1165.8,1126.4 1159.7,1126.6C1153.6,1126.8 1147.5,1127 1141.4,1127.1C1135.4,1127.2 1129.3,1127.2 1123.3,1127.1C1117.3,1127.1 1111.3,1126.9 1105.3,1126.6C1099.3,1126.4 1093.3,1126 1087.4,1125.5C1081.5,1124.9 1075.6,1124.3 1069.7,1123.5C1063.8,1122.7 1058,1121.7 1052.2,1120.6C1046.4,1119.4 1040.7,1118.1 1034.9,1116.6C1029.2,1115.1 1023.5,1113.4 1017.9,1111.4C1012.3,1109.5 1006.7,1107.3 1001.2,1104.9C995.7,1102.5 990.2,1099.9 984.8,1097.1C979.4,1094.3 974.1,1091.3 968.9,1088.1C963.7,1084.9 958.6,1081.5 953.6,1077.9C948.6,1074.3 943.8,1070.6 939,1066.7C934.3,1062.8 929.7,1058.7 925.3,1054.5C920.9,1050.3 916.6,1045.9 912.5,1041.4C908.4,1036.9 904.4,1032.3 900.7,1027.5C897,1022.8 893.4,1017.9 890.1,1012.9C886.7,1007.9 883.6,1002.8 880.7,997.6C877.9,992.4 875.2,987.2 872.8,981.8C870.4,976.4 868.2,971 866.3,965.5C864.4,960 862.8,954.4 861.5,948.8C860.2,943.2 859.1,937.5 858.3,931.8C857.6,926.1 857.1,920.3 856.8,914.5C856.5,908.7 856.5,902.9 856.7,897C856.9,891.2 857.4,885.3 858.1,879.4C858.7,873.5 859.6,867.6 860.7,861.7C861.7,855.8 863,849.9 864.4,844C865.9,838.1 867.5,832.2 869.2,826.3C871,820.5 873,814.6 875,808.8C877.1,803 879.3,797.1 881.6,791.4C884,785.6 886.4,779.9 889,774.2C891.5,768.5 894.2,762.9 896.9,757.3C899.7,751.8 902.5,746.2 905.4,740.8C908.3,735.3 911.3,730 914.3,724.7C917.3,719.4 920.3,714.1 923.4,709C926.5,703.8 929.7,698.8 932.9,693.8C936.1,688.8 939.4,683.9 942.7,679C946.1,674.2 949.5,669.4 952.9,664.7C956.4,660 960,655.4 963.6,650.8C967.2,646.3 970.9,641.8 974.7,637.4C978.5,633 982.4,628.6 986.4,624.3C990.3,620 994.4,615.8 998.6,611.6C1002.8,607.5 1007.1,603.4 1011.5,599.5C1016,595.6 1020.7,592 1025.3,588.2Z" fill="#8dcfc2" stroke="#66b5a8" stroke-width="18.5" stroke-linejoin="round"/><text class="tb" transform="translate(979.7 875) scale(1.0697 1)" font-size="43.5" fill="#231f20" stroke="#231f20" stroke-width="0.9" stroke-linejoin="round">Weź pod uwagę:</text><text class="t" transform="translate(1064.3 920.3) scale(0.9838 1)" font-size="35.6" fill="#231f20">- wiek dzieci</text><text class="t" transform="translate(1055.5 965.6) scale(0.9786 1)" font-size="35.6" fill="#231f20">- liczbę dzieci</text><text class="t" transform="translate(980.4 1010.4) scale(0.9526 1)" font-size="35.6" fill="#231f20">- czy będziesz miał salę</text><text class="t" transform="translate(1046.8 1055.7) scale(0.9765 1)" font-size="35.6" fill="#231f20">na wyłączność</text>
<path d="M870.2,444.2C866.7,449.8 863.1,455.3 859.7,461C856.2,466.8 852.7,472.7 849.5,478.7C846.3,484.7 843.1,490.9 840.3,497.1C837.4,503.3 834.7,509.7 832.5,516C830.2,522.4 828.2,528.9 826.7,535.3C825.2,541.7 824,548.3 823.4,554.7C822.8,561.2 822.8,567.7 823.1,574.1C823.4,580.6 824.2,587.1 825.3,593.5C826.4,599.9 827.9,606.3 829.7,612.7C831.4,619.1 833.4,625.5 835.6,631.8C837.8,638.1 840.2,644.4 842.7,650.6C845.1,656.9 847.8,663.1 850.4,669.2C853,675.4 855.8,681.6 858.5,687.7C861.1,693.8 863.9,700 866.5,706.1C869.1,712.3 871.7,718.4 874.1,724.6C876.6,730.8 879,737.1 881.1,743.4C883.3,749.6 885.3,756 887.2,762.4C889,768.8 890.6,775.3 892,781.8C893.4,788.3 894.6,794.9 895.6,801.5C896.6,808.1 897.4,814.8 898,821.5C898.6,828.2 899,835 899.1,841.8C899.3,848.6 899.3,855.4 899.1,862.2C898.9,869.1 898.4,875.9 897.8,882.7C897.1,889.6 896.2,896.4 895,903C893.8,909.7 892.3,916.4 890.5,922.8C888.8,929.2 886.7,935.5 884.3,941.6C881.8,947.7 879.1,953.6 876,959.2C872.8,964.8 869.3,970.1 865.4,975.2C861.6,980.2 857.3,985 852.7,989.5C848.2,994 843.2,998.2 838.1,1002.2C833,1006.2 827.5,1009.9 821.9,1013.4C816.3,1016.9 810.4,1020.2 804.5,1023.3C798.5,1026.3 792.3,1029.2 786,1031.9C779.8,1034.6 773.4,1037.1 767,1039.4C760.5,1041.7 754,1043.9 747.5,1045.9C741,1047.8 734.4,1049.7 727.7,1051.3C721.1,1052.9 714.5,1054.4 707.8,1055.7C701.1,1056.9 694.4,1058 687.7,1058.9C681,1059.8 674.2,1060.5 667.5,1061C660.8,1061.5 654,1061.8 647.3,1061.9C640.6,1062 633.8,1061.9 627.2,1061.6C620.5,1061.3 613.8,1060.8 607.1,1060C600.5,1059.3 593.9,1058.3 587.3,1057.2C580.7,1056 574.2,1054.6 567.7,1052.9C561.3,1051.3 554.8,1049.4 548.5,1047.3C542.1,1045.2 535.8,1042.9 529.6,1040.3C523.4,1037.8 517.3,1035 511.3,1032C505.3,1029 499.4,1025.8 493.6,1022.4C487.9,1019 482.2,1015.4 476.7,1011.6C471.3,1007.9 465.9,1003.9 460.7,999.7C455.6,995.5 450.5,991.2 445.7,986.7C440.9,982.2 436.2,977.5 431.8,972.6C427.4,967.8 423.2,962.8 419.2,957.6C415.2,952.5 411.4,947.1 407.9,941.7C404.4,936.2 401.1,930.6 398.1,924.9C395,919.2 392.3,913.3 389.8,907.3C387.4,901.3 385.2,895.2 383.3,889C381.5,882.7 379.9,876.4 378.6,870C377.4,863.5 376.5,857 375.8,850.4C375.1,843.7 374.7,837 374.6,830.3C374.4,823.5 374.5,816.7 374.7,809.8C375,802.9 375.5,796 376.1,789.1C376.7,782.2 377.5,775.2 378.4,768.2C379.2,761.3 380.3,754.3 381.4,747.4C382.5,740.4 383.7,733.5 384.9,726.6C386.2,719.7 387.4,712.8 388.8,706C390.2,699.2 391.6,692.5 393.1,685.8C394.7,679.2 396.3,672.6 398.2,666.1C400,659.7 402,653.3 404.2,647.1C406.4,640.8 408.8,634.7 411.4,628.8C414,622.8 416.9,617 420,611.4C423.2,605.8 426.6,600.3 430.3,595C433.9,589.7 437.8,584.6 441.9,579.7C446,574.7 450.4,569.9 454.9,565.3C459.5,560.7 464.2,556.3 469.1,552C474.1,547.7 479.2,543.6 484.5,539.6C489.7,535.7 495.2,531.9 500.8,528.3C506.3,524.6 512.1,521.2 517.9,517.9C523.8,514.6 529.7,511.5 535.8,508.5C541.9,505.5 548.1,502.7 554.3,500.1C560.6,497.4 566.9,494.9 573.3,492.6C579.7,490.3 586.2,488.1 592.7,486.1C599.2,484.1 605.8,482.2 612.4,480.5C619,478.8 625.6,477.3 632.2,475.9C638.8,474.6 645.4,473.4 652,472.3C658.6,471.2 665.2,470.2 671.8,469.4C678.4,468.5 685,467.8 691.6,467.1C698.2,466.5 704.8,465.9 711.5,465.3C718.1,464.7 724.7,464.2 731.3,463.7C737.9,463.2 744.5,462.7 751.1,462.2C757.7,461.7 764.3,461.2 770.9,460.6C777.5,460 784.1,459.4 790.8,458.6C797.4,457.9 804,457.1 810.6,456.2C817.2,455.3 823.8,454.3 830.4,453.1C837.1,452 843.7,450.7 850.3,449.2C856.9,447.7 863.6,445.9 870.2,444.2Z" fill="#66b5a8" stroke="#007b87" stroke-width="24.5" stroke-linejoin="round"/><text class="tb" transform="translate(481.1 649.1) scale(1.0601 1)" font-size="43.5" fill="#231f20" stroke="#231f20" stroke-width="0.9" stroke-linejoin="round">Jaka powinna</text><text class="tb" transform="translate(584.6 709) scale(0.9241 1)" font-size="43.5" fill="#231f20" stroke="#231f20" stroke-width="0.9" stroke-linejoin="round">być?</text><text class="t" transform="translate(496.2 753.2) scale(0.9937 1)" font-size="35.6" fill="#231f20">- uporządkowana</text><text class="t" transform="translate(541 798.3) scale(0.9525 1)" font-size="35.6" fill="#231f20">- estetyczna</text><text class="t" transform="translate(501.6 843.1) scale(0.9995 1)" font-size="35.6" fill="#231f20">- łatwo dostępna</text><text class="t" transform="translate(484.9 888.2) scale(0.9372 1)" font-size="35.6" fill="#231f20">- jasna (nie zawsze)</text><text class="t" transform="translate(522.5 933.3) scale(1.0079 1)" font-size="35.6" fill="#231f20">- wywietrzona</text>
<path d="M1475.3,450.2C1481.8,453.3 1488.5,456.1 1494.7,459.4C1500.9,462.6 1506.9,466.2 1512.6,469.9C1518.2,473.6 1523.6,477.6 1528.8,481.7C1533.9,485.9 1538.8,490.2 1543.5,494.8C1548.1,499.3 1552.5,504.1 1556.7,509C1560.8,514 1564.7,519.1 1568.4,524.4C1572,529.6 1575.5,535.1 1578.7,540.7C1581.8,546.3 1584.8,552.1 1587.5,558C1590.3,563.9 1592.8,570 1595.1,576.2C1597.4,582.4 1599.5,588.7 1601.3,595.2C1603.2,601.6 1604.8,608.2 1606.3,614.9C1607.8,621.6 1609.1,628.3 1610.4,635.1C1611.7,641.9 1612.8,648.8 1613.9,655.6C1615.1,662.4 1616.2,669.3 1617.4,676C1618.6,682.8 1619.8,689.6 1621.2,696.2C1622.6,702.9 1624,709.5 1625.7,715.9C1627.4,722.3 1629.2,728.7 1631.4,734.8C1633.5,740.9 1635.9,746.9 1638.6,752.6C1641.3,758.4 1644.4,763.9 1647.7,769.3C1650.9,774.6 1654.5,779.8 1658.4,784.8C1662.2,789.7 1666.3,794.5 1670.6,799C1675,803.6 1679.6,808 1684.3,812.1C1689.1,816.3 1694.1,820.3 1699.3,824.1C1704.5,827.9 1709.9,831.5 1715.5,834.9C1721,838.4 1726.8,841.6 1732.7,844.7C1738.6,847.7 1744.6,850.6 1750.8,853.3C1756.9,856 1763.2,858.5 1769.6,860.9C1776,863.2 1782.5,865.4 1789.1,867.4C1795.7,869.4 1802.4,871.2 1809.1,872.9C1815.9,874.5 1822.7,876 1829.5,877.3C1836.4,878.6 1843.3,879.7 1850.2,880.7C1857.1,881.6 1864,882.3 1871,882.9C1877.9,883.4 1884.9,883.8 1891.8,883.9C1898.7,884.1 1905.6,884 1912.5,883.8C1919.4,883.5 1926.2,883 1933,882.3C1939.8,881.6 1946.5,880.7 1953.2,879.5C1959.8,878.3 1966.4,876.9 1972.9,875.3C1979.4,873.7 1985.8,871.8 1992.1,869.7C1998.3,867.5 2004.5,865.1 2010.5,862.5C2016.6,859.9 2022.5,857 2028.2,853.8C2033.9,850.6 2039.5,847.2 2044.9,843.5C2050.3,839.8 2055.6,835.8 2060.5,831.6C2065.5,827.4 2070.3,822.9 2074.7,818.2C2079.2,813.5 2083.4,808.5 2087.2,803.4C2091.1,798.2 2094.6,792.8 2097.7,787.3C2100.8,781.7 2103.6,775.9 2105.9,769.9C2108.3,764 2110.2,757.8 2111.6,751.5C2113,745.2 2114,738.7 2114.5,732.1C2115.1,725.6 2115.2,718.9 2114.9,712.2C2114.7,705.6 2114,698.9 2112.9,692.3C2111.9,685.7 2110.5,679.1 2108.7,672.7C2107,666.3 2104.9,660 2102.5,653.8C2100.1,647.7 2097.4,641.6 2094.4,635.7C2091.4,629.8 2088.1,624.1 2084.6,618.4C2081.1,612.8 2077.3,607.3 2073.3,601.9C2069.2,596.6 2065,591.4 2060.5,586.3C2056.1,581.2 2051.4,576.3 2046.6,571.5C2041.8,566.7 2036.8,562.1 2031.7,557.6C2026.5,553.2 2021.2,548.8 2015.8,544.7C2010.4,540.5 2004.9,536.5 1999.3,532.6C1993.7,528.8 1987.9,525.1 1982.2,521.5C1976.4,518 1970.6,514.6 1964.7,511.4C1958.8,508.2 1952.9,505.2 1946.9,502.3C1940.9,499.4 1934.9,496.6 1928.8,494C1922.7,491.4 1916.6,488.9 1910.4,486.6C1904.2,484.3 1898,482.1 1891.7,480C1885.5,478 1879.2,476 1872.8,474.2C1866.5,472.4 1860.1,470.7 1853.7,469.1C1847.3,467.5 1840.8,466.1 1834.3,464.7C1827.9,463.4 1821.4,462.1 1814.8,460.9C1808.3,459.8 1801.7,458.7 1795.2,457.8C1788.6,456.8 1782,455.9 1775.3,455.1C1768.7,454.3 1762.1,453.6 1755.4,453C1748.7,452.3 1742.1,451.8 1735.4,451.3C1728.7,450.8 1722,450.4 1715.3,450C1708.5,449.6 1701.8,449.3 1695.1,449.1C1688.4,448.8 1681.6,448.7 1674.9,448.5C1668.1,448.3 1661.4,448.2 1654.7,448.2C1647.9,448.1 1641.2,448.1 1634.4,448.1C1627.7,448.1 1621,448.1 1614.2,448.2C1607.5,448.2 1600.8,448.3 1594.1,448.4C1587.4,448.5 1580.7,448.6 1574,448.7C1567.3,448.8 1560.7,449 1554,449.1C1547.4,449.2 1540.7,449.4 1534.1,449.5C1527.5,449.6 1520.9,449.7 1514.4,449.8C1507.8,449.9 1501.3,450 1494.7,450.1C1488.2,450.1 1481.8,450.2 1475.3,450.2Z" fill="#8dcfc2" stroke="#66b5a8" stroke-width="18.5" stroke-linejoin="round"/><text class="tbi" transform="translate(1785.4 621.4) scale(0.9015 1)" font-size="63.4" fill="#231f20" stroke="#231f20" stroke-width="1.3" stroke-linejoin="round">Why?</text>
<g stroke="#231f20" stroke-width="3.4" stroke-linecap="round" stroke-linejoin="round" fill="#fff"><path d="M1713.7,671.6 1747.2,671.6 1757.6,748.1 1702.2,748.1Z" fill="#69b4d3" stroke="none"/><path d="M1713.7,671.6L1702.2,748.1L1757.6,748.1L1747.2,671.6" fill="none"/><path d="M1711.1,757.4L1714.8,788.5L1722.1,788.5L1725,757.4"/><path d="M1735.9,757.4L1739.4,788.5L1746.8,788.5L1749.9,757.4"/><circle cx="1731.5" cy="635.8" r="28.6"/><path d="M1976.6,664.2 2004.5,664.2 2017.2,740.8 1966.2,740.8Z" fill="#66b5a8" stroke="none"/><path d="M1976.6,664.2L1966.2,740.8L2017.2,740.8L2004.5,664.2" fill="none"/><path d="M1974.6,748.5L1977.9,785.1L1985.2,785.1L1988.3,748.5"/><path d="M1996.8,748.5L2000.1,785.1L2007.4,785.1L2010.5,748.5"/><circle cx="1990.6" cy="626.5" r="28.6"/></g><path d="M1780,711.9L1786.3,782" stroke="#231f20" stroke-width="9.6" stroke-linecap="butt" fill="none"/><path d="M1780.3,715L1786,778.9" stroke="#fff" stroke-width="3.4" stroke-linecap="butt" fill="none"/><path d="M1946.6,697.5L1953.1,765.6" stroke="#231f20" stroke-width="9.6" stroke-linecap="butt" fill="none"/><path d="M1946.9,700.6L1952.8,762.5" stroke="#fff" stroke-width="3.4" stroke-linecap="butt" fill="none"/><path d="M1748.8,674.7Q1756.5,695.3 1772.7,707.9" stroke="#231f20" stroke-width="11.2" stroke-linecap="butt" fill="none"/><path d="M1748.8,674.7Q1756.5,695.3 1772.7,707.9" stroke="#fff" stroke-width="4.4" stroke-linecap="butt" fill="none"/><path d="M1976.6,666.9Q1968.4,685.3 1955.1,698.2" stroke="#231f20" stroke-width="11.2" stroke-linecap="butt" fill="none"/><path d="M1976.6,666.9Q1968.4,685.3 1955.1,698.2" stroke="#fff" stroke-width="4.4" stroke-linecap="butt" fill="none"/><path d="M1770.5,710.6L1957.7,692" stroke="#231f20" stroke-width="10.6" stroke-linecap="butt" fill="none"/><path d="M1773.8,710.3L1954.4,692.3" stroke="#fff" stroke-width="4.0" stroke-linecap="butt" fill="none"/><path d="M1719.5,673.6Q1733.2,700.8 1758.1,710.2" stroke="#231f20" stroke-width="11.2" stroke-linecap="butt" fill="none"/><path d="M1719.5,673.6Q1733.2,700.8 1758.1,710.2" stroke="#fff" stroke-width="4.4" stroke-linecap="butt" fill="none"/><path d="M2005.2,664.9Q1995,692 1972.4,700.4" stroke="#231f20" stroke-width="11.2" stroke-linecap="butt" fill="none"/><path d="M2005.2,664.9Q1995,692 1972.4,700.4" stroke="#fff" stroke-width="4.4" stroke-linecap="butt" fill="none"/>
<path d="M1169.1,3249.2C1162.7,3246.2 1156.2,3243.4 1150,3240.2C1143.9,3237 1138,3233.5 1132.3,3229.8C1126.6,3226.2 1121.1,3222.3 1115.9,3218.2C1110.6,3214.1 1105.5,3209.8 1100.7,3205.3C1095.9,3200.9 1091.2,3196.2 1086.8,3191.4C1082.4,3186.6 1078.1,3181.6 1074.1,3176.5C1070.1,3171.3 1066.3,3166 1062.6,3160.6C1059,3155.2 1055.6,3149.7 1052.3,3144C1049.1,3138.3 1046,3132.5 1043.2,3126.7C1040.3,3120.8 1037.6,3114.8 1035.1,3108.7C1032.6,3102.6 1030.3,3096.5 1028.1,3090.2C1026,3084 1024,3077.7 1022.2,3071.4C1020.4,3065 1018.8,3058.6 1017.3,3052.2C1015.9,3045.7 1014.6,3039.2 1013.4,3032.7C1012.3,3026.2 1011.3,3019.7 1010.5,3013.1C1009.7,3006.6 1009,3000 1008.4,2993.4C1007.8,2986.8 1007.4,2980.2 1007,2973.6C1006.7,2967 1006.4,2960.3 1006.2,2953.7C1006.1,2947 1006,2940.3 1005.9,2933.6C1005.9,2927 1005.9,2920.3 1006,2913.6C1006.1,2906.9 1006.2,2900.1 1006.3,2893.4C1006.4,2886.7 1006.6,2880 1006.8,2873.2C1006.9,2866.5 1007.1,2859.7 1007.2,2853C1007.4,2846.3 1007.5,2839.5 1007.6,2832.8C1007.6,2826 1007.7,2819.3 1007.7,2812.6C1007.7,2805.8 1007.6,2799.1 1007.5,2792.4C1007.3,2785.6 1007.1,2778.9 1006.8,2772.2C1006.5,2765.5 1006.1,2758.8 1005.5,2752.1C1005,2745.4 1004.4,2738.7 1003.6,2732C1002.8,2725.3 1001.9,2718.7 1000.8,2712C999.7,2705.4 998.5,2698.8 997.1,2692.2C995.8,2685.6 994.2,2679.1 992.6,2672.6C990.9,2666.1 989.1,2659.7 987.1,2653.3C985.1,2647 982.9,2640.7 980.6,2634.5C978.3,2628.3 975.8,2622.2 973.2,2616.2C970.6,2610.3 967.7,2604.4 964.8,2598.6C961.8,2592.9 958.6,2587.2 955.3,2581.7C952,2576.2 948.5,2570.9 944.8,2565.7C941.1,2560.5 937.2,2555.4 933.2,2550.6C929.1,2545.7 924.9,2541 920.4,2536.5C916,2532 911.4,2527.7 906.6,2523.5C901.8,2519.4 896.8,2515.5 891.6,2511.8C886.4,2508.2 881,2504.7 875.5,2501.5C869.9,2498.2 864.1,2495.2 858.2,2492.4C852.4,2489.6 846.3,2486.9 840.1,2484.5C834,2482.1 827.7,2479.9 821.3,2477.8C814.9,2475.8 808.4,2473.9 801.8,2472.2C795.3,2470.5 788.6,2469 781.9,2467.6C775.3,2466.3 768.5,2465.1 761.8,2464C755,2463 748.2,2462.1 741.4,2461.3C734.6,2460.6 727.8,2460 721,2459.5C714.2,2459.1 707.3,2458.8 700.5,2458.6C693.7,2458.5 686.9,2458.5 680.1,2458.6C673.3,2458.8 666.5,2459.1 659.8,2459.5C653,2460 646.3,2460.6 639.6,2461.3C632.9,2462.1 626.2,2463 619.5,2464C612.9,2465.1 606.3,2466.3 599.7,2467.6C593.1,2469 586.6,2470.5 580.1,2472.2C573.7,2473.8 567.2,2475.7 560.9,2477.6C554.5,2479.6 548.2,2481.8 542,2484C535.8,2486.3 529.6,2488.8 523.5,2491.4C517.4,2494 511.4,2496.7 505.5,2499.6C499.5,2502.6 493.7,2505.6 487.9,2508.9C482.2,2512.1 476.5,2515.5 471,2519C465.4,2522.5 459.9,2526.2 454.6,2530C449.2,2533.9 444,2537.8 438.8,2541.9C433.7,2546.1 428.7,2550.3 423.8,2554.7C418.9,2559.1 414.1,2563.6 409.5,2568.2C404.8,2572.8 400.3,2577.6 395.9,2582.5C391.6,2587.4 387.3,2592.4 383.2,2597.5C379.1,2602.7 375.2,2607.9 371.4,2613.3C367.6,2618.6 363.9,2624.1 360.5,2629.7C357,2635.3 353.6,2640.9 350.5,2646.7C347.3,2652.5 344.3,2658.4 341.4,2664.3C338.6,2670.3 335.9,2676.3 333.3,2682.4C330.8,2688.6 328.3,2694.8 326.1,2701C323.8,2707.3 321.7,2713.6 319.7,2720C317.8,2726.3 315.9,2732.8 314.2,2739.2C312.6,2745.7 311,2752.2 309.6,2758.8C308.2,2765.3 306.9,2771.9 305.8,2778.5C304.6,2785.1 303.6,2791.7 302.7,2798.3C301.9,2805 301.1,2811.6 300.5,2818.3C299.9,2824.9 299.4,2831.6 299,2838.2C298.7,2844.9 298.4,2851.5 298.3,2858.1C298.2,2864.8 298.2,2871.4 298.3,2878.1C298.4,2884.7 298.6,2891.3 299,2897.9C299.3,2904.6 299.7,2911.2 300.3,2917.8C300.8,2924.5 301.5,2931.1 302.3,2937.7C303,2944.4 303.9,2951 304.8,2957.6C305.8,2964.3 306.8,2970.9 308,2977.5C309.1,2984.2 310.3,2990.8 311.7,2997.5C313,3004.1 314.4,3010.8 315.9,3017.4C317.4,3024 319,3030.7 320.6,3037.3C322.3,3043.9 324.1,3050.5 326,3057C327.9,3063.6 329.9,3070.1 332,3076.5C334.2,3083 336.4,3089.4 338.7,3095.7C341.1,3102.1 343.6,3108.4 346.2,3114.5C348.8,3120.7 351.5,3126.8 354.4,3132.8C357.3,3138.8 360.3,3144.8 363.5,3150.5C366.7,3156.3 370,3162 373.5,3167.6C376.9,3173.1 380.6,3178.6 384.4,3183.9C388.2,3189.2 392.1,3194.3 396.2,3199.3C400.4,3204.3 404.7,3209.2 409.1,3213.8C413.6,3218.5 418.2,3223 422.9,3227.4C427.7,3231.8 432.6,3236 437.7,3240.1C442.7,3244.1 447.9,3248 453.2,3251.8C458.5,3255.6 463.9,3259.2 469.5,3262.6C475,3266 480.7,3269.3 486.4,3272.5C492.2,3275.6 498.1,3278.6 504,3281.5C509.9,3284.3 516,3287 522.1,3289.5C528.2,3292.1 534.4,3294.4 540.7,3296.7C546.9,3298.9 553.2,3301 559.6,3302.9C566,3304.9 572.4,3306.7 578.9,3308.3C585.3,3309.9 591.8,3311.4 598.4,3312.8C604.9,3314.1 611.5,3315.3 618.1,3316.4C624.7,3317.4 631.3,3318.3 637.9,3319.1C644.6,3319.9 651.2,3320.6 657.9,3321.2C664.6,3321.7 671.3,3322.2 678,3322.5C684.7,3322.8 691.4,3323.1 698.1,3323.2C704.8,3323.4 711.6,3323.4 718.3,3323.4C725,3323.4 731.8,3323.3 738.5,3323.1C745.2,3322.9 752,3322.7 758.7,3322.4C765.4,3322.1 772.1,3321.7 778.9,3321.4C785.6,3321 792.3,3320.5 799,3320C805.6,3319.6 812.3,3319 819,3318.5C825.6,3318 832.3,3317.4 838.9,3316.8C845.5,3316.1 852.1,3315.5 858.7,3314.8C865.3,3314.1 871.9,3313.4 878.5,3312.6C885.1,3311.9 891.7,3311.1 898.2,3310.2C904.8,3309.4 911.3,3308.5 917.9,3307.6C924.4,3306.7 930.9,3305.8 937.4,3304.8C943.9,3303.8 950.4,3302.7 956.9,3301.6C963.4,3300.6 969.9,3299.4 976.4,3298.3C982.9,3297.1 989.3,3295.9 995.8,3294.7C1002.3,3293.4 1008.7,3292.1 1015.2,3290.8C1021.6,3289.4 1028.1,3288 1034.5,3286.6C1040.9,3285.2 1047.4,3283.7 1053.8,3282.2C1060.2,3280.6 1066.6,3279 1073.1,3277.4C1079.5,3275.8 1085.9,3274.1 1092.3,3272.4C1098.7,3270.7 1105.1,3268.9 1111.5,3267.1C1117.9,3265.2 1124.3,3263.4 1130.7,3261.4C1137.1,3259.5 1143.5,3257.5 1149.9,3255.5C1156.3,3253.4 1162.7,3251.3 1169.1,3249.2Z" fill="#00588c"/><text class="tb" transform="translate(436.5 2646.3) scale(1.0879 1)" font-size="47.5" fill="#fff" stroke="#fff" stroke-width="1" stroke-linejoin="round">Zapakuj do walizki:</text><text class="t" transform="translate(503.2 2711.8) scale(1.0623 1)" font-size="47.5" fill="#fff">- kostkę do gry</text><text class="t" transform="translate(468 2776.7) scale(1.0782 1)" font-size="47.5" fill="#fff">- karty obrazkowe</text><text class="t" transform="translate(487 2841.6) scale(1.0478 1)" font-size="47.5" fill="#fff">- obrazki z gazet</text><text class="t" transform="translate(614.3 2906.4) scale(1.0898 1)" font-size="47.5" fill="#fff">- linę</text><text class="t" transform="translate(601.5 2971.3) scale(1.0810 1)" font-size="47.5" fill="#fff">- piłkę</text><text class="t" transform="translate(448.4 3036.5) scale(1.0369 1)" font-size="47.5" fill="#fff">- klocki Cuisenaire’a</text><text class="t" transform="translate(560.2 3101) scale(1.0639 1)" font-size="47.5" fill="#fff">- pacynkę</text><text class="t" transform="translate(453.9 3165.9) scale(1.0647 1)" font-size="47.5" fill="#fff">- pluszowego misia</text>
<path d="M1407.9,2831.9C1405.2,2828.3 1402.6,2824.7 1399.8,2821.2C1397.1,2817.6 1394.3,2814 1391.4,2810.4C1388.6,2806.8 1385.7,2803.2 1382.8,2799.5C1379.9,2795.9 1376.9,2792.2 1374,2788.5C1371.1,2784.9 1368.1,2781.1 1365.2,2777.4C1362.3,2773.7 1359.4,2769.9 1356.6,2766.1C1353.7,2762.3 1350.9,2758.4 1348.2,2754.6C1345.4,2750.7 1342.7,2746.8 1340.1,2742.8C1337.5,2738.9 1335,2734.9 1332.5,2730.8C1330.1,2726.8 1327.7,2722.7 1325.5,2718.5C1323.3,2714.4 1321.2,2710.2 1319.2,2705.9C1317.3,2701.7 1315.4,2697.4 1313.7,2693C1312.1,2688.6 1310.5,2684.2 1309.2,2679.7C1307.9,2675.2 1306.7,2670.6 1305.8,2666C1304.8,2661.4 1304,2656.7 1303.4,2652C1302.9,2647.2 1302.5,2642.4 1302.3,2637.6C1302.1,2632.9 1302.1,2628 1302.3,2623.3C1302.6,2618.5 1303,2613.7 1303.6,2609C1304.2,2604.3 1304.9,2599.6 1305.9,2595C1306.9,2590.4 1308.1,2585.8 1309.5,2581.4C1310.8,2576.9 1312.4,2572.6 1314.1,2568.4C1315.9,2564.2 1317.8,2560.1 1320,2556.2C1322.1,2552.2 1324.4,2548.5 1327,2544.9C1329.5,2541.3 1332.2,2537.9 1335.1,2534.7C1338,2531.5 1341,2528.5 1344.3,2525.6C1347.5,2522.7 1350.9,2520.1 1354.4,2517.6C1358,2515 1361.7,2512.7 1365.5,2510.5C1369.3,2508.3 1373.2,2506.2 1377.3,2504.3C1381.4,2502.4 1385.6,2500.7 1389.9,2499.1C1394.1,2497.5 1398.5,2496 1403,2494.6C1407.5,2493.3 1412.1,2492.1 1416.7,2491C1421.3,2489.9 1426.1,2488.9 1430.8,2488C1435.6,2487.1 1440.4,2486.4 1445.3,2485.7C1450.1,2485 1455.1,2484.5 1460,2484C1464.9,2483.5 1469.9,2483.2 1474.9,2482.9C1479.8,2482.6 1484.8,2482.4 1489.8,2482.2C1494.8,2482.1 1499.8,2482 1504.7,2482C1509.7,2482 1514.6,2482.1 1519.5,2482.2C1524.4,2482.3 1529.3,2482.5 1534.1,2482.7C1538.9,2482.9 1543.7,2483.2 1548.5,2483.6C1553.2,2484 1557.9,2484.5 1562.6,2485C1567.3,2485.6 1571.9,2486.2 1576.4,2486.9C1581,2487.7 1585.5,2488.5 1589.9,2489.5C1594.4,2490.5 1598.8,2491.5 1603.1,2492.7C1607.5,2493.9 1611.7,2495.3 1615.9,2496.7C1620.1,2498.2 1624.3,2499.8 1628.4,2501.6C1632.4,2503.3 1636.4,2505.2 1640.4,2507.3C1644.3,2509.4 1648.1,2511.6 1651.9,2514C1655.7,2516.5 1659.4,2519 1663,2521.8C1666.6,2524.6 1670.2,2527.6 1673.6,2530.7C1677,2533.9 1680.4,2537.2 1683.5,2540.7C1686.6,2544.2 1689.6,2547.9 1692.3,2551.8C1695,2555.6 1697.5,2559.6 1699.7,2563.7C1701.9,2567.8 1703.8,2572.1 1705.3,2576.4C1706.8,2580.8 1708,2585.3 1708.7,2589.9C1709.5,2594.5 1709.8,2599.2 1709.7,2604C1709.6,2608.7 1709,2613.5 1708.1,2618.3C1707.2,2623.1 1705.9,2627.9 1704.4,2632.5C1702.8,2637.1 1700.9,2641.7 1698.7,2646.1C1696.6,2650.5 1694.1,2654.8 1691.5,2658.7C1688.8,2662.7 1685.9,2666.5 1682.8,2669.9C1679.8,2673.4 1676.5,2676.5 1673.1,2679.4C1669.7,2682.3 1666.1,2684.9 1662.4,2687.4C1658.6,2689.8 1654.7,2691.9 1650.7,2693.9C1646.7,2695.9 1642.6,2697.6 1638.4,2699.2C1634.1,2700.8 1629.8,2702.2 1625.4,2703.4C1620.9,2704.7 1616.4,2705.7 1611.8,2706.7C1607.2,2707.7 1602.6,2708.5 1597.9,2709.3C1593.2,2710 1588.4,2710.6 1583.6,2711.2C1578.8,2711.8 1574,2712.2 1569.2,2712.7C1564.4,2713.1 1559.5,2713.5 1554.7,2713.9C1549.9,2714.3 1545.1,2714.6 1540.3,2715.1C1535.5,2715.5 1530.8,2715.9 1526.1,2716.4C1521.4,2717 1516.7,2717.5 1512.2,2718.3C1507.6,2719 1503.1,2719.8 1498.7,2720.8C1494.3,2721.8 1490,2723 1485.8,2724.4C1481.6,2725.8 1477.5,2727.4 1473.6,2729.3C1469.6,2731.1 1465.8,2733.2 1462.2,2735.6C1458.5,2738.1 1455,2740.8 1451.7,2743.9C1448.4,2746.9 1445.3,2750.3 1442.3,2754C1439.3,2757.6 1436.5,2761.5 1433.9,2765.6C1431.3,2769.6 1428.9,2774 1426.6,2778.3C1424.3,2782.7 1422.2,2787.2 1420.3,2791.7C1418.4,2796.3 1416.7,2800.9 1415.1,2805.4C1413.6,2810 1412.2,2814.5 1411,2818.9C1409.8,2823.4 1408.9,2827.6 1407.9,2831.9Z" fill="#ff9e00" stroke="#ff9e00" stroke-width="4" stroke-linejoin="round"/><text class="tbi" transform="translate(1382 2592.3) scale(0.9611 1)" font-size="55.4" fill="#fff" stroke="#fff" stroke-width="1.2" stroke-linejoin="round">A jeśli nie</text><text class="tbi" transform="translate(1347.8 2667.4) scale(0.9892 1)" font-size="55.4" fill="#fff" stroke="#fff" stroke-width="1.2" stroke-linejoin="round">mam sali...?</text>
<g stroke="#231f20" stroke-width="13" stroke-linecap="round" stroke-linejoin="round" fill="none"><path d="M1338.2,3171.1L1374.5,3116.5" stroke-width="18"/><g transform="translate(1268.5 3253.3) rotate(36.5)"><rect x="-38.5" y="-100.5" width="77" height="201" rx="9" fill="#8dcfc2" stroke-width="13"/><path d="M-16.5,-98V98" stroke-width="11"/></g><path d="M1487.2,2989.7C1473.8,3039.3 1435.6,3081.3 1384,3098.5C1368.8,3104.3 1370.7,3129.1 1393.6,3129.1C1424.2,3125.3 1454.7,3100.4 1471.9,3075.6" fill="#fff"/><path d="M1599.9,2989.7C1615.2,3039.3 1653.4,3081.3 1703,3098.5C1718.3,3104.3 1716.4,3129.1 1695.4,3129.1C1664.8,3125.3 1634.3,3100.4 1615.2,3075.6" fill="#fff"/><path d="M1487.2,2989.7 1599.9,2989.7 1630.4,3236.1 1454.7,3236.1Z" fill="#ff9e00" stroke="none"/><path d="M1487.2,2989.7L1454.7,3236.1L1630.4,3236.1L1599.9,2989.7"/><path d="M1483.4,3264.7L1492.9,3360.2L1513.9,3360.2L1523.5,3264.7"/><path d="M1562.8,3264.7L1572.4,3360.2L1593.4,3360.2L1602.9,3264.7"/><circle cx="1542.8" cy="2874.4" r="82.2" fill="#fff"/></g>
</g>
</svg>
</body>
</html>
